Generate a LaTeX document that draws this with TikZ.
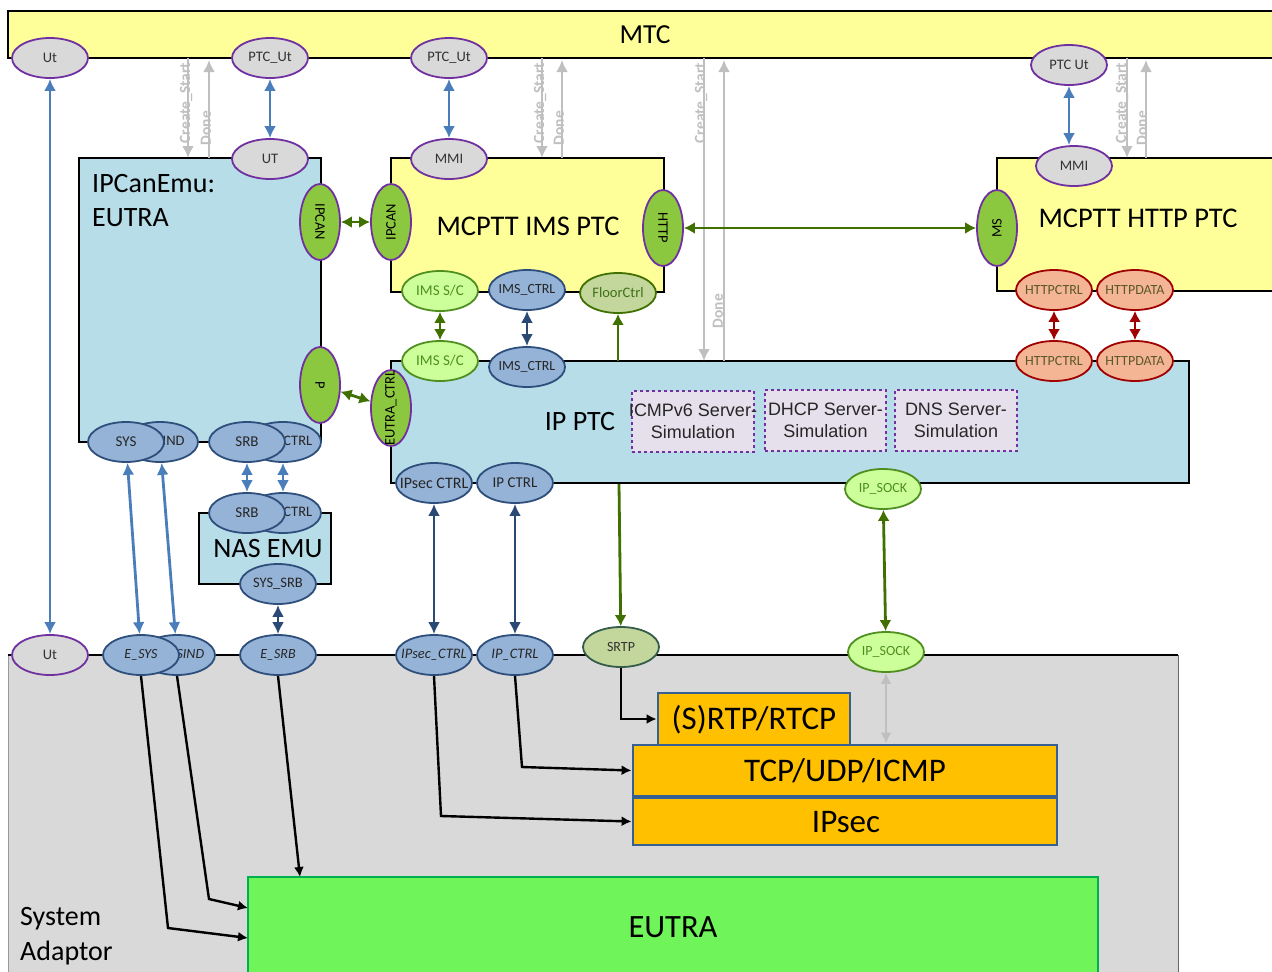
\documentclass[tikz,border=0pt]{standalone}
\usepackage{fontspec}
\setmainfont{Carlito}
\newfontfamily\arialf{Liberation Sans}
\usetikzlibrary{shapes.geometric,arrows.meta}
\definecolor{cyellow}{HTML}{FFFF99}
\definecolor{cblue}{HTML}{B7DDE8}
\definecolor{cgraybg}{HTML}{D9D9D9}
\definecolor{cpurple}{HTML}{7030A0}
\definecolor{cellgreen}{HTML}{8CC83F}
\definecolor{cellblue}{HTML}{95B3D7}
\definecolor{cedgeblue}{HTML}{2E4F7C}
\definecolor{clight}{HTML}{CCFF99}
\definecolor{cdgreen}{HTML}{3F7000}
\definecolor{ctxtgreen}{HTML}{4F8F20}
\definecolor{colive}{HTML}{C3D69B}
\definecolor{csalmon}{HTML}{F4B594}
\definecolor{cred}{HTML}{A00000}
\definecolor{carrblue}{HTML}{4A7EBB}
\definecolor{carrdark}{HTML}{2A4A75}
\definecolor{corange}{HTML}{FFC000}
\definecolor{cbord}{HTML}{366092}
\definecolor{cgreen}{HTML}{6FF55A}
\definecolor{cgborder}{HTML}{00B050}
\definecolor{csim}{HTML}{E6E0EC}
\definecolor{cgarr}{HTML}{BFBFBF}
\newcommand\lbl[1]{\makebox[0pt][c]{#1}}
\newcommand\fs[1]{\fontsize{#1}{#1}\selectfont}
\tikzset{
  box/.style={draw=black,line width=2.2pt,fill=#1},
  ell/.style={ellipse,inner sep=0pt,minimum width=76pt,minimum height=40pt,line width=1.8pt,font=\fs{14.5}},
  grayell/.style={ell,draw=cpurple,fill=cgraybg,text=black!80},
  greenell/.style={ell,draw=cpurple,fill=cellgreen,text=black},
  blueell/.style={ell,draw=cedgeblue,fill=cellblue,text=black!85},
  lightell/.style={ell,draw=ctxtgreen,fill=clight,text=ctxtgreen,font=\fs{15}},
  oliveell/.style={ell,draw=cdgreen,fill=colive,text=ctxtgreen!80!black,font=\fs{14.5}},
  httpell/.style={ell,draw=cred,fill=csalmon,text=black!40!olive!90!black,font=\fs{14}},
  big/.style={inner sep=0pt,font=\fs{28},text=black},
  orangebox/.style={draw=cbord,line width=2.8pt,fill=corange},
  simbox/.style={draw=cpurple,dashed,line width=1.4pt,fill=csim,align=center,font=\arialf\fontsize{18}{22}\selectfont,text=black!85,inner sep=0pt},
  bluearr/.style={draw=carrblue,line width=2.8pt,{Latex[length=12pt,width=12pt]}-{Latex[length=12pt,width=12pt]}},
  darkarr/.style={draw=carrdark,line width=2.6pt,{Latex[length=12pt,width=12pt]}-{Latex[length=12pt,width=12pt]}},
  greenarr/.style={draw=cdgreen,line width=2.8pt,{Latex[length=11pt,width=12pt]}-{Latex[length=11pt,width=12pt]}},
  greenone/.style={draw=cdgreen,line width=2.8pt,-{Latex[length=11pt,width=12pt]}},
  redarr/.style={draw=cred,line width=2.4pt,{Latex[length=11pt,width=12pt]}-{Latex[length=11pt,width=12pt]}},
  grayarr/.style={draw=cgarr,line width=2.4pt,-{Latex[length=12pt,width=12pt]}},
  graytwo/.style={draw=cgarr,line width=2.4pt,{Latex[length=11pt,width=11pt]}-{Latex[length=11pt,width=11pt]}},
  blackarr/.style={draw=black,line width=2.4pt,-{Latex[length=10pt,width=10pt]}},
  graytxt/.style={text=cgarr,font=\bfseries\fs{15.5},inner sep=0pt,rotate=90}
}
\begin{document}
\begin{tikzpicture}[x=1pt,y=-1pt]
\useasboundingbox (0,0) rectangle (1272,972);
% main boxes
\draw[draw=black,line width=2.5pt,fill=cyellow] (1285,11) -- (8,11) -- (8,58) -- (1285,58);
\node[big,font=\fs{27.5}] (mtc) at (645,35) {MTC};
\path[fill=cgraybg] (8,655) rectangle (1178,985);
\draw[black!60,line width=1pt] (1178,655) -- (1178,985);
\draw[black!40,line width=.8pt] (8,655) -- (8,985);
\draw[black,line width=2pt] (8,655) -- (1178,655);
\node[box=cblue,minimum width=242pt,minimum height=284pt,inner sep=0pt] (ipcan) at (200,300) {};
\node[box=cyellow,minimum width=273pt,minimum height=134pt,inner sep=0pt] (ims) at (527.5,225) {};
\node[box=cyellow,minimum width=290pt,minimum height=133pt,inner sep=0pt] (http) at (1142,224.5) {};
\node[box=cblue,minimum width=798pt,minimum height=122pt,inner sep=0pt] (ipptc) at (790,422) {};
\node[box=cblue,minimum width=132pt,minimum height=71pt,inner sep=0pt] (nas) at (265,548.5) {};
\node[orangebox,minimum width=192pt,minimum height=52pt,inner sep=0pt] (rtp) at (754,719) {};
\node[orangebox,minimum width=424pt,minimum height=51pt,inner sep=0pt] (tcp) at (845,770.5) {};
\node[orangebox,minimum width=424pt,minimum height=47pt,inner sep=0pt] (ipsec) at (845,821.5) {};
\path[fill=cgreen,draw=cgborder,line width=2.5pt] (248,1000) -- (248,877) -- (1098,877) -- (1098,1000);
\coordinate (eutraw) at (248,938);
\coordinate (eutraw2) at (248,908);
\coordinate (eutran) at (300,877);
% box labels
\node[big,anchor=west] (t1) at (92,184) {IPCanEmu:};
\node[big,anchor=west] (t2) at (92,218) {EUTRA};
\node[big,font=\fs{28.5}] (t3) at (528,226) {MCPTT IMS PTC};
\node[big,font=\fs{28.5}] (t4) at (1138,218) {MCPTT HTTP PTC};
\node[big] (t5) at (580,422) {IP PTC};
\node[big] (t6) at (268,549) {NAS EMU};
\node[big,font=\fs{33}] (t7) at (754,720) {(S)RTP/RTCP};
\node[big,font=\fs{33}] (t8) at (845,771) {TCP/UDP/ICMP};
\node[big,font=\fs{33}] (t9) at (846,822) {IPsec};
\node[big,font=\fs{32.5}] (t10) at (673,927) {EUTRA};
\node[big,anchor=west] (t11) at (20,919) {System};
\node[big,anchor=west] (t12) at (20,953) {Adaptor};
% sim boxes
\node[simbox,minimum width=122pt,minimum height=61pt] (s1) at (693,421.5) {\lbl{ICMPv6 Server-}\\Simulation};
\node[simbox,minimum width=121pt,minimum height=61pt] (s2) at (825.5,420.5) {\lbl{DHCP Server-}\\Simulation};
\node[simbox,minimum width=122pt,minimum height=61pt] (s3) at (956,420.5) {\lbl{DNS Server-}\\Simulation};
% gray signals
\foreach \n/\a/\b/\ty in {a/188/209/158,b/542/562/158,d/1127/1146/158,c/704/724/361}{
  \coordinate (\n s1) at (\a,58); \coordinate (\n e1) at (\a,\ty);
  \coordinate (\n s2) at (\b,\ty); \coordinate (\n e2) at (\b,60);
  \draw[grayarr] (\n s1) -- (\n e1);
  \draw[grayarr] (\n s2) -- (\n e2);
}
\node[graytxt] (g1) at (186,103) {Create\_Start};
\node[graytxt] (g2) at (206,128) {Done};
\node[graytxt] (g3) at (540,103) {Create\_Start};
\node[graytxt] (g4) at (559,128) {Done};
\node[graytxt] (g5) at (701,103) {Create\_Start};
\node[graytxt] (g6) at (718,311) {Done};
\node[graytxt] (g7) at (1122,103) {Create\_Start};
\node[graytxt] (g8) at (1142,128) {Done};
% ellipses behind
\node[blueell] (ind) at (160,442) {\lbl{\phantom{SYS\_}IND}};
\node[blueell] (ctrl1) at (283,442) {\lbl{\phantom{SRB\_}CTRL}};
\node[blueell] (ctrl2) at (283,513) {\lbl{\phantom{SRB\_}CTRL}};
\node[blueell,font=\fs{14}\itshape] (esind) at (177,655) {\lbl{\phantom{E\_SY}SIND}};
% ellipses
\node[grayell] (ut1) at (50,58) {Ut};
\node[grayell] (ptc1) at (270,58) {PTC\_Ut};
\node[grayell] (ptc2) at (449,58) {PTC\_Ut};
\node[grayell] (ptc3) at (1069,65) {PTC Ut};
\node[grayell] (ue) at (270,159) {UT};
\node[grayell] (mmi1) at (449,159) {MMI};
\node[grayell] (mmi2) at (1074,166) {MMI};
\node[grayell] (ut2) at (50,655) {Ut};
\node[greenell,rotate=-90] (ipcan1) at (320,222) {IPCAN};
\node[greenell,rotate=90] (ipcan2) at (391,222) {IPCAN};
\node[greenell,rotate=-90] (httpif) at (663,228) {HTTP};
\node[greenell,rotate=90] (ms) at (997,228) {MS};
\node[greenell,rotate=-90] (p) at (320,385) {P};
\node[greenell,rotate=90,font=\fs{14.5}] (ectrl) at (391,408) {\lbl{EUTRA\_CTRL}};
\node[lightell] (sc1) at (440,291) {IMS S/C};
\node[lightell] (sc2) at (440,361) {IMS S/C};
\node[blueell,font=\fs{14}] (ic1) at (527,290) {\lbl{IMS\_CTRL}};
\node[blueell,font=\fs{14}] (ic2) at (527,367) {\lbl{IMS\_CTRL}};
\node[oliveell] (floor) at (618,293) {FloorCtrl};
\node[httpell] (hc1) at (1054,290) {\lbl{HTTPCTRL}};
\node[httpell] (hd1) at (1135,290) {\lbl{HTTPDATA}};
\node[httpell] (hc2) at (1054,361) {\lbl{HTTPCTRL}};
\node[httpell] (hd2) at (1135,361) {\lbl{HTTPDATA}};
\node[blueell,font=\fs{15}] (sys) at (126,442) {SYS};
\node[blueell,font=\fs{15}] (srb1) at (247,442) {SRB};
\node[blueell,font=\fs{15}] (srb2) at (247,513) {SRB};
\node[blueell] (syssrb) at (278,584) {\lbl{SYS\_SRB}};
\node[blueell,font=\fs{14}\itshape] (esys) at (141,655) {E\_SYS};
\node[blueell,font=\fs{14}\itshape] (esrb) at (278,655) {E\_SRB};
\node[blueell,font=\fs{16}] (ipsc1) at (434,483) {\lbl{IPsec CTRL}};
\node[blueell,font=\fs{15}] (ipc1) at (515,483) {\lbl{IP CTRL}};
\node[blueell,font=\fs{14.5}\itshape] (ipsc2) at (434,655) {\lbl{IPsec\_CTRL}};
\node[blueell,font=\fs{14.5}\itshape] (ipc2) at (515,655) {\lbl{IP\_CTRL}};
\node[oliveell,draw=cedgeblue!60!cdgreen,text=black!80,font=\fs{14}] (srtp) at (621,647) {SRTP};
\node[lightell,font=\fs{14}] (sock1) at (883,489) {\lbl{IP\_SOCK}};
\node[lightell,font=\fs{14}] (sock2) at (886,652) {\lbl{IP\_SOCK}};
% connectors
\draw[bluearr] (ut1) -- (ut2);
\draw[bluearr] (ptc1) -- (ue);
\draw[bluearr] (ptc2) -- (mmi1);
\draw[bluearr] (ptc3.south) -- (ptc3.south |- mmi2.north);
\draw[greenarr] (ipcan1) -- (ipcan2);
\draw[greenarr] (httpif) -- (ms);
\draw[greenarr] (p) -- (ectrl);
\draw[greenarr] (sc1) -- (sc2);
\draw[darkarr] (ic1) -- (ic2);
\draw[redarr] (hc1) -- (hc2);
\draw[redarr] (hd1) -- (hd2);
\coordinate (floorbase) at (618,361);
\coordinate (srtpbase) at (619,484);
\draw[greenone] (floorbase) -- (floor);
\draw[greenone] (srtpbase) -- (srtp);
\draw[bluearr] (sys) -- (esys);
\draw[bluearr] (ind) -- (esind);
\draw[bluearr] (srb1) -- (srb2);
\draw[bluearr] (ctrl1) -- (ctrl2);
\draw[darkarr] (syssrb) -- (esrb);
\draw[darkarr] (ipsc1) -- (ipsc2);
\draw[darkarr] (ipc1) -- (ipc2);
\draw[greenarr] (sock1) -- (sock2);
\draw[graytwo] (sock2.south) -- (sock2.south |- tcp.north);
\draw[blackarr] (srtp.south) -- (srtp.south |- rtp.west) -- (rtp.west);
\coordinate (b1) at (522,767);
\coordinate (b2) at (441,816);
\coordinate (b3) at (168,928);
\coordinate (b4) at (209,899);
\draw[blackarr] (ipc2.south) -- (b1) -- (tcp.west);
\draw[blackarr] (ipsc2.south) -- (b2) -- (ipsec.west);
\draw[blackarr] (esys.south) -- (b3) -- (eutraw);
\draw[blackarr] (esind.south) -- (b4) -- (eutraw2);
\draw[blackarr] (esrb.south) -- (eutran);
\end{tikzpicture}
\end{document}
